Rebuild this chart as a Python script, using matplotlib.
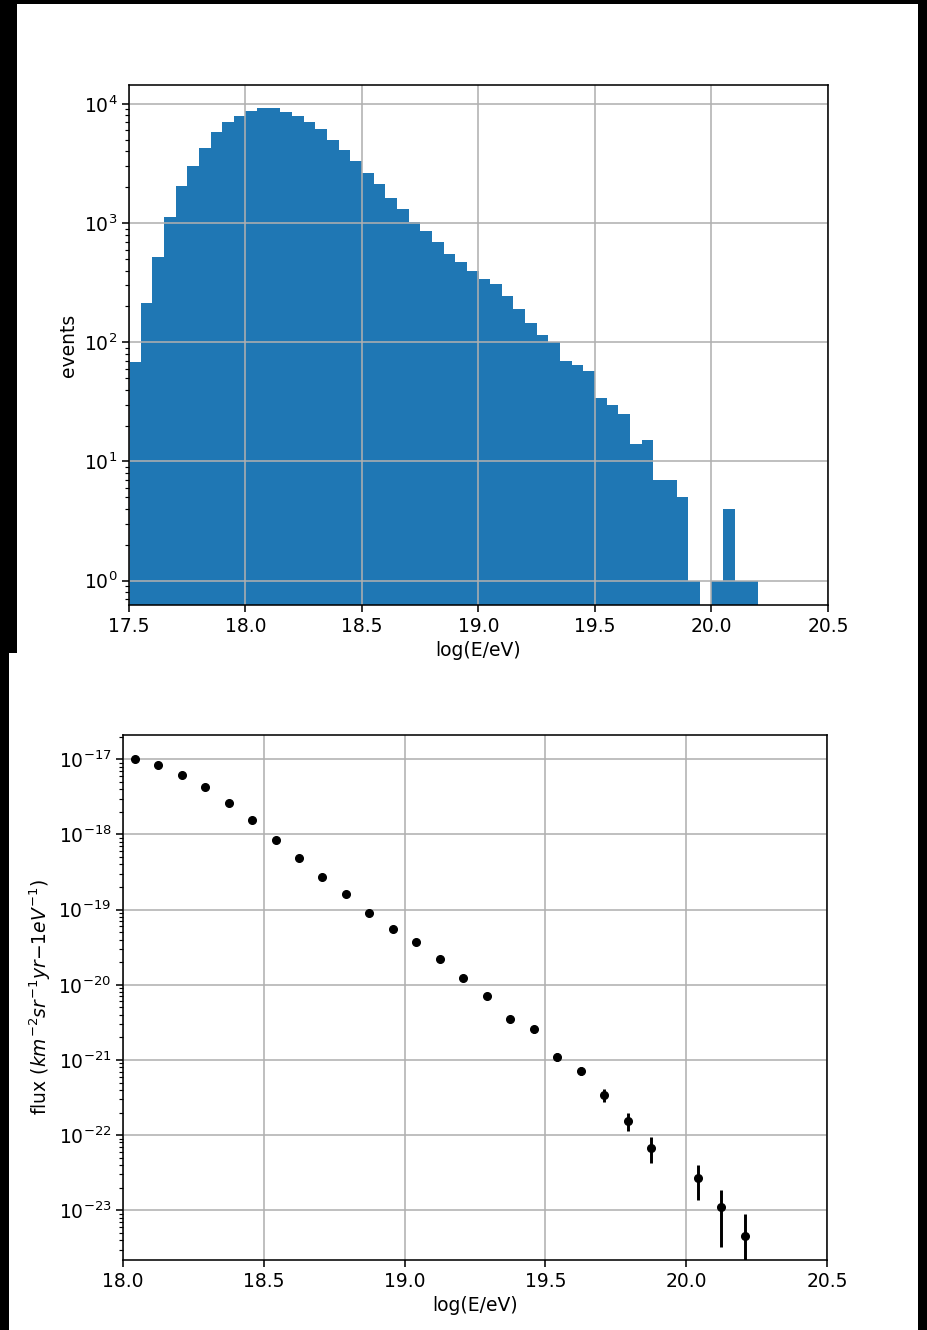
import numpy as np
import matplotlib
matplotlib.use('Agg')
import matplotlib.pyplot as plt
from matplotlib.patches import Rectangle

# event counts per 0.05 bin of log(E/eV), starting at 17.5
bin_start = 17.5
bin_width = 0.05
counts = [68, 214, 519, 1123, 2030, 2985, 4250, 5820, 6980, 7980,
          8790, 9200, 9150, 8570, 7940, 7020, 6130, 5020, 4140, 3310,
          2625, 2110, 1620, 1310, 1020, 851, 693, 550, 474, 394,
          337, 308, 246, 190, 145, 114, 100, 70, 64, 57,
          34, 30, 25, 14, 15, 7, 7, 5, 1, 0,
          1, 4, 1, 1]

# flux spectrum (bin centres in log(E/eV))
logE = [18.042, 18.125, 18.208, 18.292, 18.375, 18.458, 18.542, 18.625, 18.708,
        18.792, 18.875, 18.958, 19.042, 19.125, 19.208, 19.292, 19.375, 19.458,
        19.542, 19.625, 19.708, 19.792, 19.875, 20.042, 20.125, 20.208]
flux = [1.0e-17, 8.5e-18, 6.2e-18, 4.25e-18, 2.63e-18, 1.56e-18, 8.5e-19, 4.84e-19, 2.73e-19,
        1.62e-19, 8.9e-20, 5.6e-20, 3.72e-20, 2.19e-20, 1.25e-20, 7.2e-21, 3.53e-21, 2.55e-21,
        1.11e-21, 7.15e-22, 3.46e-22, 1.55e-22, 6.8e-23, 2.67e-23, 1.11e-23, 4.5e-24]
flux_err = [1.0e-19, 9e-20, 7e-20, 6e-20, 4e-20, 2.8e-20, 1.8e-20, 1.2e-20, 8e-21,
            5.5e-21, 3.5e-21, 2.5e-21, 2.0e-21, 1.3e-21, 8.5e-22, 5.5e-22, 3.2e-22, 2.6e-22,
            1.3e-22, 0.9e-22, 0.7e-22, 0.42e-22, 2.6e-23, 1.31e-23, 0.78e-23, 4.45e-24]

s = 1.41  # scale of the original figures
plt.rcParams['font.size'] = 13.5
for a in ['xtick', 'ytick']:
    plt.rcParams[a + '.major.size'] = 3.5 * s
    plt.rcParams[a + '.major.width'] = 0.8 * s
    plt.rcParams[a + '.minor.size'] = 2 * s
    plt.rcParams[a + '.minor.width'] = 0.6 * s
plt.rcParams['axes.linewidth'] = 0.8 * s
plt.rcParams['grid.linewidth'] = 0.8 * s

W, H = 928, 1330
fig = plt.figure(figsize=(W / 100, H / 100), dpi=100, facecolor='black')

def px_rect(x0, y0, x1, y1):
    return [x0 / W, 1 - y1 / H, (x1 - x0) / W, (y1 - y0) / H]

# white backgrounds of the two pasted figures
for x0, y0, x1, y1 in [(17, 4, 918, 653), (9, 653, 918, 1330)]:
    r = px_rect(x0, y0, x1, y1)
    fig.patches.append(Rectangle((r[0], r[1]), r[2], r[3], transform=fig.transFigure,
                                 facecolor='white', edgecolor='none', zorder=-5))

# histogram of events
ax1 = fig.add_axes(px_rect(129, 85, 828, 605))
edges = bin_start + bin_width * np.arange(len(counts) + 1)
ax1.hist(edges[:-1], bins=edges, weights=counts, log=True, color='#1f77b4')
ax1.set_xlim(17.5, 20.5)
ax1.set_ylim(0.625, 14400)
ax1.set_xticks([17.5, 18.0, 18.5, 19.0, 19.5, 20.0, 20.5])
ax1.set_xlabel('log(E/eV)')
ax1.set_ylabel('events')
ax1.grid(True)

# flux spectrum
ax2 = fig.add_axes(px_rect(123, 735, 827, 1260))
ax2.errorbar(logE, flux, yerr=flux_err, fmt='ko', markersize=5.5, elinewidth=1.5 * s)
ax2.set_yscale('log')
ax2.set_xlim(18.0, 20.5)
ax2.set_ylim(10 ** -23.661, 10 ** -16.677)
ax2.set_xticks([18.0, 18.5, 19.0, 19.5, 20.0, 20.5])
ax2.set_xlabel('log(E/eV)')
ax2.set_ylabel('flux ($km^{-2}sr^{-1}yr{-1}eV^{-1}$)')
ax2.grid(True)

fig.savefig('out.png', dpi=100, facecolor=fig.get_facecolor())
